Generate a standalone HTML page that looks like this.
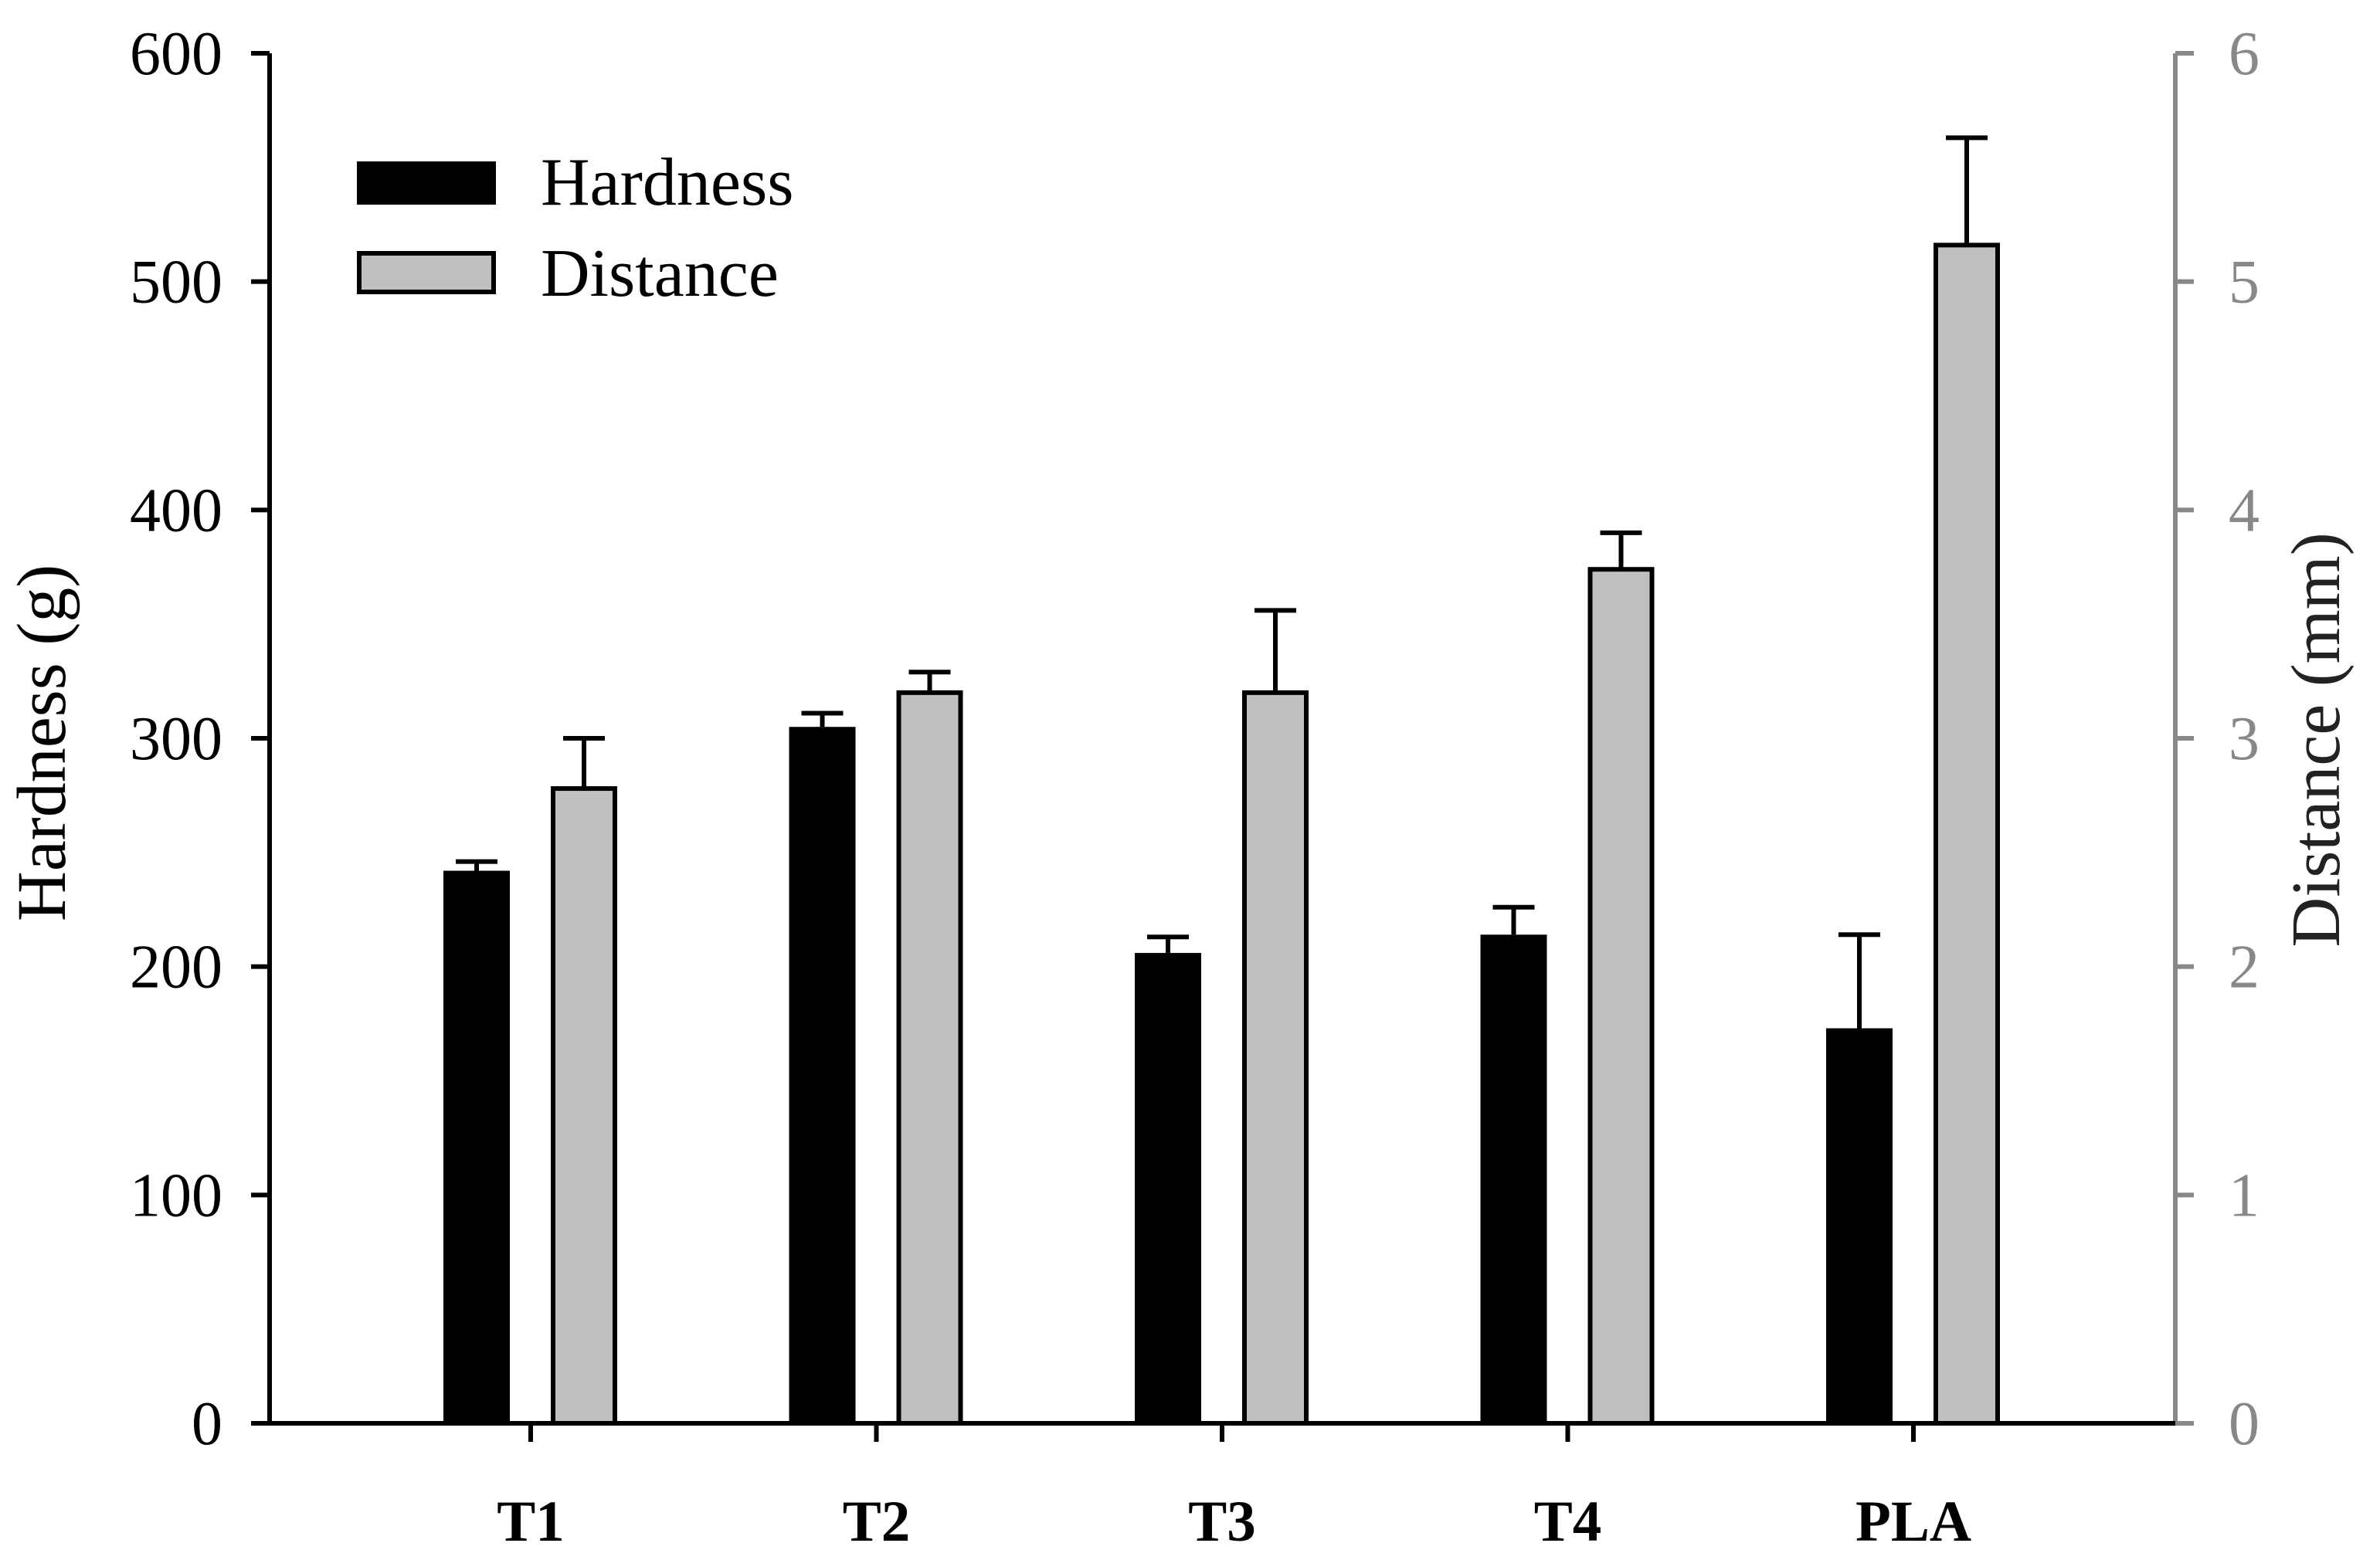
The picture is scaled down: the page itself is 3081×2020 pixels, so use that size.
<!DOCTYPE html>
<html><head><meta charset="utf-8"><style>
html,body{margin:0;padding:0;background:#fff;}
svg{display:block;font-family:"Liberation Serif",serif;}
</style></head><body>
<svg id="chart" width="3081" height="2020" viewBox="0 0 3081 2020" xmlns="http://www.w3.org/2000/svg">
<g id="axes"></g><g id="bars"></g>
<g>
 <rect x="462" y="209" width="180" height="56" fill="#000"/>
 <text x="700" y="265" font-size="88">Hardness</text>
 <rect x="465" y="328" width="174" height="50" fill="#c0c0c0" stroke="#000" stroke-width="6"/>
 <text x="700" y="383" font-size="88">Distance</text>
</g>
<text transform="translate(84,962) rotate(-90)" text-anchor="middle" font-size="90">Hardness (g)</text>
<text transform="translate(3028,958) rotate(-90)" text-anchor="middle" font-size="90" fill="#222">Distance (mm)</text>
</svg>
<script>
const categories = ["T1","T2","T3","T4","PLA"];
const hardness = [242,305,206,214,173];
const hardnessErr = [4,6,7,12,41];
const distance = [2.78,3.2,3.2,3.74,5.16];
const distanceErr = [0.22,0.09,0.36,0.16,0.47];
const leftTicks = [0,100,200,300,400,500,600];
const rightTicks = [0,1,2,3,4,5,6];

const NS="http://www.w3.org/2000/svg";
const X0=349, X1=2816, Y0=1843, Y1=69;
const yL=v=>Y0-(v/600)*(Y0-Y1);
const yR=v=>Y0-(v/6)*(Y0-Y1);
const xC=i=>687+i*447.5;
function mk(tag,attrs,parent){const e=document.createElementNS(NS,tag);for(const k in attrs)e.setAttribute(k,attrs[k]);parent.appendChild(e);return e;}
const axes=document.getElementById('axes'), bars=document.getElementById('bars');

let e=mk('line',{x1:X0,y1:Y1,x2:X0,y2:Y0,stroke:'#000','stroke-width':6},axes);


e=mk('line',{x1:X1,y1:Y1,x2:X1,y2:Y0,stroke:'#888','stroke-width':6},axes);


e=mk('line',{x1:X0-3,y1:Y0,x2:X1,y2:Y0,stroke:'#000','stroke-width':6},axes);



leftTicks.forEach(v=>{
 let t=mk('line',{x1:X0-24,y1:yL(v),x2:X0,y2:yL(v),stroke:'#000','stroke-width':6},axes);
 
 
 let l=mk('text',{x:288,y:yL(v)+27,'text-anchor':'end','font-size':80},axes);
 l.textContent=v;
 
 
});
rightTicks.forEach(v=>{
 let t=mk('line',{x1:X1,y1:yR(v),x2:X1+24,y2:yR(v),stroke:'#888','stroke-width':6},axes);
 
 
 let l=mk('text',{x:2905,y:yR(v)+27,'text-anchor':'middle','font-size':80,fill:'#888'},axes);
 l.textContent=v;
 
 
});
categories.forEach((c,i)=>{
 const cx=xC(i);
 let t=mk('line',{x1:cx,y1:Y0,x2:cx,y2:Y0+24,stroke:'#000','stroke-width':6},axes);
 
 
 let l=mk('text',{x:cx,y:1995,'text-anchor':'middle','font-size':75,'font-weight':'bold'},axes);
 l.textContent=c;
 
 
 const hx=cx-113, w=86;
 let eb=mk('line',{x1:hx+w/2,y1:yL(hardness[i]),x2:hx+w/2,y2:yL(hardness[i]+hardnessErr[i]),stroke:'#000','stroke-width':6},bars);
 
 
 let cap=mk('line',{x1:hx+w/2-27,y1:yL(hardness[i]+hardnessErr[i]),x2:hx+w/2+27,y2:yL(hardness[i]+hardnessErr[i]),stroke:'#000','stroke-width':6},bars);
 
 
 let b=mk('rect',{x:hx,y:yL(hardness[i]),width:w,height:Y0-yL(hardness[i]),fill:'#000'},bars);
 
 
 const dx=cx+29, dw=80;
 let eb2=mk('line',{x1:dx+dw/2,y1:yR(distance[i]),x2:dx+dw/2,y2:yR(distance[i]+distanceErr[i]),stroke:'#000','stroke-width':6},bars);
 
 
 let cap2=mk('line',{x1:dx+dw/2-27,y1:yR(distance[i]+distanceErr[i]),x2:dx+dw/2+27,y2:yR(distance[i]+distanceErr[i]),stroke:'#000','stroke-width':6},bars);
 
 
 let b2=mk('rect',{x:dx,y:yR(distance[i]),width:dw,height:Y0-yR(distance[i]),fill:'#c0c0c0',stroke:'#000','stroke-width':6},bars);
 
 
});
</script>
</body></html>
